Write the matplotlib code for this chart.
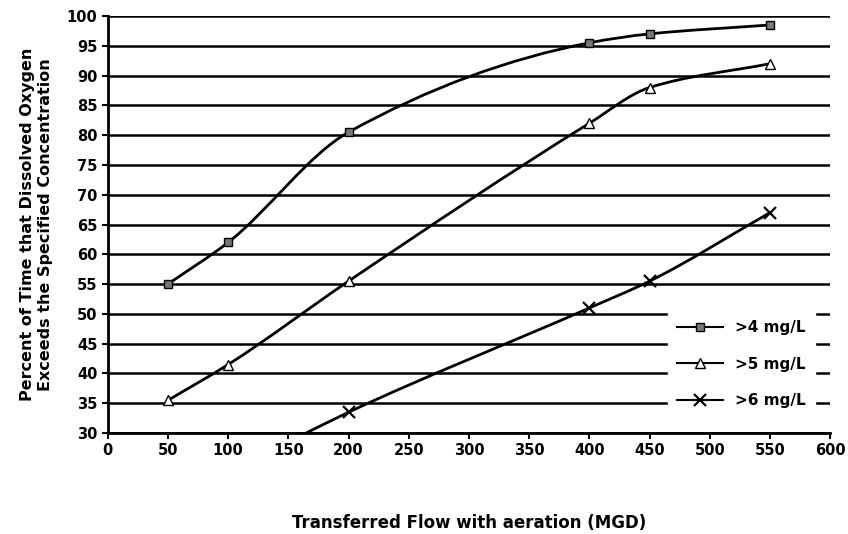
import numpy as np
from matplotlib import pyplot as plt
from matplotlib.path import Path
from matplotlib.patches import PathPatch

flow_4 = [50, 100, 200, 400, 450, 550]
pct_4 = [55, 62, 80.5, 95.5, 97, 98.5]
flow_5 = [50, 100, 200, 400, 450, 550]
pct_5 = [35.5, 41.5, 55.5, 82, 88, 92]
flow_6 = [150, 200, 400, 450, 550]
pct_6 = [28.5, 33.5, 51, 55.5, 67]
labels = [">4 mg/L", ">5 mg/L", ">6 mg/L"]


def smooth_path(xs, ys):
    # smoothed line like excel, done as bezier segments (pchip style slopes)
    x = np.asarray(xs, float)
    y = np.asarray(ys, float)
    h = np.diff(x)
    d = np.diff(y) / h
    m = np.zeros(len(x))
    m[0], m[-1] = d[0], d[-1]
    for i in range(1, len(x) - 1):
        if d[i - 1] * d[i] > 0:
            w1 = 2 * h[i] + h[i - 1]
            w2 = h[i] + 2 * h[i - 1]
            m[i] = (w1 + w2) / (w1 / d[i - 1] + w2 / d[i])
    verts = [(x[0], y[0])]
    codes = [Path.MOVETO]
    for i in range(len(x) - 1):
        verts += [(x[i] + h[i] / 3, y[i] + m[i] * h[i] / 3),
                  (x[i + 1] - h[i] / 3, y[i + 1] - m[i + 1] * h[i] / 3),
                  (x[i + 1], y[i + 1])]
        codes += [Path.CURVE4] * 3
    return Path(verts, codes)


fig = plt.figure(figsize=(8.48, 5.34), dpi=100)
ax = fig.add_axes([0.127, 0.189, 0.852, 0.781])

ax.set_xlim(0, 600)
ax.set_ylim(30, 100)
ax.set_yticks(np.arange(30, 101, 5))
ax.set_xticks(np.arange(0, 601, 50))
ax.yaxis.grid(True, color='black', linewidth=1.8)
ax.set_axisbelow(True)
for s in ['top', 'right']:
    ax.spines[s].set_visible(False)
for s in ['left', 'bottom']:
    ax.spines[s].set_linewidth(2)
ax.tick_params(length=4, width=1.5, labelsize=10.5)
for t in ax.get_xticklabels() + ax.get_yticklabels():
    t.set_fontweight('bold')

series = [(flow_4, pct_4, 's', dict(markerfacecolor='#777777', markersize=6)),
          (flow_5, pct_5, '^', dict(markerfacecolor='white', markersize=7)),
          (flow_6, pct_6, 'x', dict(markersize=8, markeredgewidth=1.6))]
handles = []
for (xs, ys, m, kw), lab in zip(series, labels):
    ax.add_patch(PathPatch(smooth_path(xs, ys), facecolor='none', edgecolor='black',
                           linewidth=2, clip_on=True))
    ax.plot(xs, ys, linestyle='none', marker=m, color='black', markeredgecolor='black',
            clip_on=True, zorder=3, **kw)
    h, = ax.plot([], [], color='black', linewidth=1.5, marker=m, markeredgecolor='black', **kw)
    handles.append(h)

leg = ax.legend(handles, labels, loc='lower left', bbox_to_anchor=(0.765, 0.02),
                frameon=True, fancybox=False, edgecolor='white', framealpha=1,
                handlelength=3, labelspacing=1.4, borderpad=0.6,
                prop={'weight': 'bold', 'size': 11})

ax.set_ylabel("Percent of Time that Dissolved Oxygen\nExceeds the Specified Concentration",
              fontsize=11.5, fontweight='bold', labelpad=10)
ax.set_xlabel("Transferred Flow with aeration (MGD)", fontsize=12, fontweight='bold',
              labelpad=40)

fig.savefig('out.png', dpi=100)
